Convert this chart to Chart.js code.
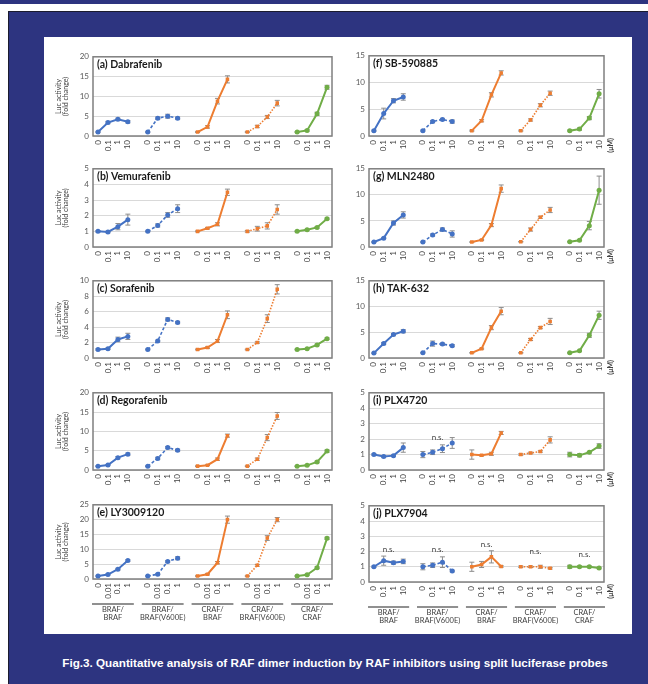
<!DOCTYPE html>
<html>
<head>
<meta charset="utf-8">
<script src="https://cdn.jsdelivr.net/npm/chart.js@4.4.0/dist/chart.umd.min.js"></script>
<style>
body{margin:0;width:648px;height:684px;position:relative;background:#fff;overflow:hidden;font-family:"Liberation Sans",Arial,sans-serif}
#topbar{position:absolute;left:0;top:0;width:648px;height:4px;background:#2d3480}
#frame{position:absolute;left:8px;top:11px;width:640px;height:673px;background:#2d3480;border-left:1px solid #1b1b2e;border-top:1px solid #1b1b2e}
#panel{position:absolute;left:44px;top:37px;width:588px;height:597px;background:#fff}
canvas{position:absolute}
#caption{position:absolute;left:15px;width:640px;top:656px;text-align:center;color:#fff;font-weight:bold;font-size:11.7px}
</style>
</head>
<body>
<div id="topbar"></div>
<div id="frame"></div>
<div id="panel"></div>
<div id="caption">Fig.3. Quantitative analysis of RAF dimer induction by RAF inhibitors using split luciferase probes</div>
<script>
// x categories (per probe pair group)
var doses = ['0', '0.1', '1', '10'];
var dosesLY = ['0', '0.01', '0.1', '1'];
var groupNames = [['BRAF/', 'BRAF'], ['BRAF/', 'BRAF(V600E)'], ['CRAF/', 'BRAF'], ['CRAF/', 'BRAF(V600E)'], ['CRAF/', 'CRAF']];

// fold change values: one row per group (BRAF/BRAF, BRAF/BRAF(V600E), CRAF/BRAF, CRAF/BRAF(V600E), CRAF/CRAF)
var dabrafenib    = [[1, 3.4, 4.2, 3.6], [1, 4.5, 5.0, 4.5], [1, 2.3, 8.8, 14.3], [1, 2.4, 4.8, 8.3], [1, 1.4, 5.6, 12.3]];
var dabrafenibErr = [[0.1, 0.3, 0.3, 0.3], [0.1, 0.3, 0.5, 0.3], [0.1, 0.3, 0.7, 0.9], [0.1, 0.3, 0.4, 0.7], [0.1, 0.2, 0.4, 0.5]];
var vemurafenib    = [[1, 0.96, 1.3, 1.75], [1, 1.38, 2.05, 2.45], [1, 1.2, 1.45, 3.5], [1, 1.17, 1.35, 2.4], [1, 1.1, 1.25, 1.8]];
var vemurafenibErr = [[0.05, 0.05, 0.2, 0.35], [0.03, 0.1, 0.15, 0.25], [0.03, 0.05, 0.1, 0.2], [0.05, 0.15, 0.2, 0.3], [0.03, 0.03, 0.05, 0.05]];
var sorafenib    = [[1.1, 1.2, 2.4, 2.8], [1.1, 2.2, 5.0, 4.6], [1.1, 1.35, 2.2, 5.6], [1.1, 2.0, 5.1, 8.9], [1.1, 1.2, 1.7, 2.5]];
var sorafenibErr = [[0.1, 0.1, 0.3, 0.4], [0.05, 0.1, 0.2, 0.15], [0.05, 0.1, 0.2, 0.5], [0.05, 0.1, 0.5, 0.6], [0.05, 0.05, 0.1, 0.1]];
var regorafenib    = [[1, 1.3, 3.2, 4.1], [1, 3.0, 5.8, 5.1], [1, 1.25, 2.8, 8.9], [1, 2.8, 8.4, 14.0], [1, 1.2, 2.1, 4.9]];
var regorafenibErr = [[0.1, 0.1, 0.3, 0.3], [0.1, 0.3, 0.3, 0.3], [0.1, 0.1, 0.3, 0.4], [0.1, 0.3, 0.8, 0.9], [0.1, 0.1, 0.2, 0.3]];
var ly3009120    = [[1, 1.5, 3.3, 6.2], [1, 1.6, 5.9, 7.0], [1, 1.6, 5.5, 20.0], [1, 4.6, 13.8, 20.0], [1, 1.4, 3.8, 13.7]];
var ly3009120Err = [[0.1, 0.2, 0.3, 0.3], [0.1, 0.2, 0.3, 0.5], [0.1, 0.2, 0.4, 1.2], [0.1, 0.3, 0.8, 0.7], [0.1, 0.2, 0.3, 0.4]];
var sb590885    = [[1, 4.2, 6.6, 7.3], [1, 2.7, 3.1, 2.7], [1, 2.85, 7.7, 11.8], [1, 3.0, 5.75, 8.0], [1, 1.3, 3.35, 7.9]];
var sb590885Err = [[0.1, 1.0, 0.4, 0.6], [0.1, 0.2, 0.2, 0.3], [0.1, 0.2, 0.4, 0.4], [0.1, 0.2, 0.3, 0.4], [0.1, 0.2, 0.3, 0.8]];
var mln2480    = [[0.95, 1.7, 4.6, 6.15], [0.95, 2.3, 3.35, 2.5], [0.95, 1.35, 4.2, 11.2], [1, 3.35, 5.7, 7.1], [1, 1.3, 4.1, 10.9]];
var mln2480Err = [[0.05, 0.1, 0.4, 0.6], [0.05, 0.2, 0.3, 0.6], [0.05, 0.1, 0.3, 0.7], [0.05, 0.3, 0.2, 0.5], [0.05, 0.1, 0.8, 2.7]];
var tak632    = [[0.95, 2.8, 4.55, 5.2], [1, 2.8, 2.7, 2.4], [1, 1.8, 5.9, 9.1], [1, 3.6, 5.9, 7.1], [1, 1.4, 4.4, 8.3]];
var tak632Err = [[0.05, 0.2, 0.2, 0.3], [0.05, 0.5, 0.2, 0.2], [0.05, 0.1, 0.4, 0.7], [0.05, 0.2, 0.2, 0.6], [0.05, 0.1, 0.4, 0.8]];
var plx4720    = [[1, 0.87, 0.93, 1.45], [1, 1.15, 1.38, 1.75], [1, 0.95, 1.05, 2.4], [1, 1.1, 1.2, 1.95], [1, 0.95, 1.15, 1.55]];
var plx4720Err = [[0.05, 0.05, 0.05, 0.3], [0.2, 0.15, 0.25, 0.35], [0.3, 0.05, 0.1, 0.1], [0.05, 0.05, 0.05, 0.2], [0.15, 0.1, 0.05, 0.15]];
var plx7904    = [[1, 1.4, 1.27, 1.35], [1, 1.1, 1.3, 0.72], [1, 1.15, 1.65, 1.02], [1, 1, 1, 0.9], [1, 1, 1, 0.92]];
var plx7904Err = [[0.05, 0.3, 0.1, 0.15], [0.2, 0.15, 0.35, 0.05], [0.3, 0.2, 0.4, 0.05], [0.05, 0.05, 0.1, 0.05], [0.1, 0.05, 0.05, 0.05]];
// "n.s." marks: height per group (null = none)
var plx4720Ns = [null, 2.1, null, null, null];
var plx7904Ns = [2.15, 2.15, 2.47, 2.03, 1.84];

var colors = ['#4472c4', '#4472c4', '#ed7d31', '#ed7d31', '#70ad47'];
var dashes = [[], [3, 2], [], [1.5, 1.5], []];
var markers = ['circle', 'circle', 'rect', 'rect', 'circle'];

var panels = [
    {title: '(a) Dabrafenib', vals: dabrafenib, err: dabrafenibErr, max: 20, step: 5, col: 0, row: 0},
    {title: '(b) Vemurafenib', vals: vemurafenib, err: vemurafenibErr, max: 5, step: 1, col: 0, row: 1},
    {title: '(c) Sorafenib', vals: sorafenib, err: sorafenibErr, max: 10, step: 2, col: 0, row: 2},
    {title: '(d) Regorafenib', vals: regorafenib, err: regorafenibErr, max: 20, step: 5, col: 0, row: 3},
    {title: '(e) LY3009120', vals: ly3009120, err: ly3009120Err, max: 25, step: 5, col: 0, row: 4, doses: dosesLY},
    {title: '(f) SB-590885', vals: sb590885, err: sb590885Err, max: 15, step: 5, col: 1, row: 0},
    {title: '(g) MLN2480', vals: mln2480, err: mln2480Err, max: 15, step: 5, col: 1, row: 1},
    {title: '(h) TAK-632', vals: tak632, err: tak632Err, max: 15, step: 5, col: 1, row: 2},
    {title: '(i) PLX4720', vals: plx4720, err: plx4720Err, max: 5, step: 1, col: 1, row: 3, ns: plx4720Ns},
    {title: '(j) PLX7904', vals: plx7904, err: plx7904Err, max: 5, step: 1, col: 1, row: 4, ns: plx7904Ns}
];

// plot area placement on the page
var tops = [[54, 166, 278, 390, 502], [53, 166, 278, 390, 503]];
var bottoms = [[136, 247, 358, 470, 579], [136, 247, 358, 470, 582]];

function makeDeco(p){
    return {
        id: 'deco',
        beforeDatasetsDraw: function(chart){
            var ctx = chart.ctx, a = chart.chartArea;
            var xs = chart.scales.x, ys = chart.scales.y;
            ctx.save();
            ctx.strokeStyle = '#7f7f7f';
            ctx.lineWidth = 1.5;
            ctx.strokeRect(a.left, a.top, a.right - a.left, a.bottom - a.top);
            // error bars
            ctx.strokeStyle = '#8c8c8c';
            ctx.lineWidth = 1;
            p.vals.forEach(function(row, g){
                row.forEach(function(v, i){
                    var e = p.err[g][i];
                    var x = xs.getPixelForValue(g * 5 + i);
                    var y1 = ys.getPixelForValue(v + e), y2 = ys.getPixelForValue(v - e);
                    ctx.beginPath();
                    ctx.moveTo(x, y1); ctx.lineTo(x, y2);
                    ctx.moveTo(x - 2.5, y1); ctx.lineTo(x + 2.5, y1);
                    ctx.moveTo(x - 2.5, y2); ctx.lineTo(x + 2.5, y2);
                    ctx.stroke();
                });
            });
            ctx.restore();
        },
        afterDatasetsDraw: function(chart){
            var ctx = chart.ctx, a = chart.chartArea;
            var xs = chart.scales.x, ys = chart.scales.y;
            var step = xs.getPixelForValue(1) - xs.getPixelForValue(0);
            ctx.save();
            ctx.fillStyle = '#1a1a1a';
            ctx.font = 'bold 10.5px Lato';
            ctx.textAlign = 'left';
            ctx.textBaseline = 'top';
            ctx.fillText(p.title, a.left + 4, a.top + 3);

            // rotated dose labels
            ctx.fillStyle = '#404040';
            ctx.font = '8px Lato';
            ctx.textAlign = 'right';
            ctx.textBaseline = 'middle';
            chart.data.labels.forEach(function(l, k){
                if (!l) return;
                ctx.save();
                ctx.translate(xs.getPixelForValue(k), a.bottom + 4);
                ctx.rotate(-Math.PI / 2);
                ctx.fillText(l, 0, 0);
                ctx.restore();
            });
            if (p.col == 1) {
                ctx.save();
                ctx.font = 'bold 7px Lato';
                ctx.translate(a.right + 7, a.bottom + 2);
                ctx.rotate(-Math.PI / 2);
                ctx.fillText('(\u03bcM)', 0, 0);
                ctx.restore();
            }
            if (p.ns) {
                ctx.font = '8px Lato';
                ctx.textAlign = 'center';
                ctx.fillStyle = '#404040';
                p.ns.forEach(function(v, g){
                    if (v == null) return;
                    ctx.fillText('n.s.', xs.getPixelForValue(g * 5 + 1.5), ys.getPixelForValue(v));
                });
            }
            if (p.row == 4) {
                ctx.textAlign = 'center';
                ctx.font = '7.5px Lato';
                ctx.fillStyle = '#404040';
                groupNames.forEach(function(n, g){
                    var c = (xs.getPixelForValue(g * 5 + 1) + xs.getPixelForValue(g * 5 + 2)) / 2;
                    ctx.strokeStyle = '#222';
                    ctx.lineWidth = 1.2;
                    ctx.beginPath();
                    ctx.moveTo(c - step * 2.1, a.bottom + 25);
                    ctx.lineTo(c + step * 2.1, a.bottom + 25);
                    ctx.stroke();
                    ctx.fillText(n[0], c, a.bottom + 31);
                    ctx.fillText(n[1], c, a.bottom + 38.5);
                });
            }
            ctx.restore();
        }
    };
}

function makeChart(p){
    var left = p.col == 0;
    var top = tops[p.col][p.row], bottom = bottoms[p.col][p.row];
    var yw = left ? 49 : 29;
    var cx = left ? 44 : 340;
    var plotRight = left ? 333 : 604;
    var padRight = left ? 3 : 16;
    var extra = p.row == 4 ? 36 : 0;
    var w = plotRight + padRight - cx;
    var h = 6 + (bottom - top) + 20 + extra;

    var canvas = document.createElement('canvas');
    canvas.width = w; canvas.height = h;
    canvas.style.left = cx + 'px';
    canvas.style.top = (top - 6) + 'px';
    canvas.style.width = w + 'px';
    canvas.style.height = h + 'px';
    document.body.appendChild(canvas);

    var d = p.doses || doses;
    var labels = [];
    for (var g = 0; g < 5; g++) {
        labels = labels.concat(d);
        if (g < 4) labels.push('');
    }
    var datasets = p.vals.map(function(row, g){
        var data = new Array(labels.length).fill(null);
        row.forEach(function(v, i){ data[g * 5 + i] = v; });
        return {
            data: data,
            borderColor: colors[g],
            backgroundColor: colors[g],
            borderWidth: (g == 1 || g == 3) ? 1.6 : 2,
            borderDash: dashes[g],
            pointStyle: markers[g],
            pointRadius: 2.5,
            pointBorderWidth: 0,
            spanGaps: false,
            tension: 0
        };
    });

    new Chart(canvas.getContext('2d'), {
        type: 'line',
        data: {labels: labels, datasets: datasets},
        options: {
            responsive: false,
            animation: false,
            devicePixelRatio: 1,
            layout: {padding: {top: 6, right: padRight, bottom: extra, left: 0}},
            plugins: {legend: {display: false}, tooltip: {enabled: false}},
            scales: {
                x: {
                    type: 'category', offset: true,
                    grid: {display: false}, border: {display: false},
                    ticks: {display: false},
                    afterFit: function(s){ s.height = 20; }
                },
                y: {
                    min: 0, max: p.max,
                    ticks: {stepSize: p.step, color: '#595959', font: {family: 'Lato', size: 8}, padding: 4},
                    grid: {color: '#d9d9d9', drawTicks: false},
                    border: {display: false},
                    title: left ? {display: true, text: ['Luc activity', '(fold change)'], color: '#404040',
                        font: {family: 'Lato', size: 7, lineHeight: 1}, padding: {top: 11, bottom: 0}} : {display: false},
                    afterFit: function(s){ s.width = yw; }
                }
            }
        },
        plugins: [makeDeco(p)]
    });
}

window.onload = function(){
    panels.forEach(makeChart);
};
</script>
</body>
</html>
